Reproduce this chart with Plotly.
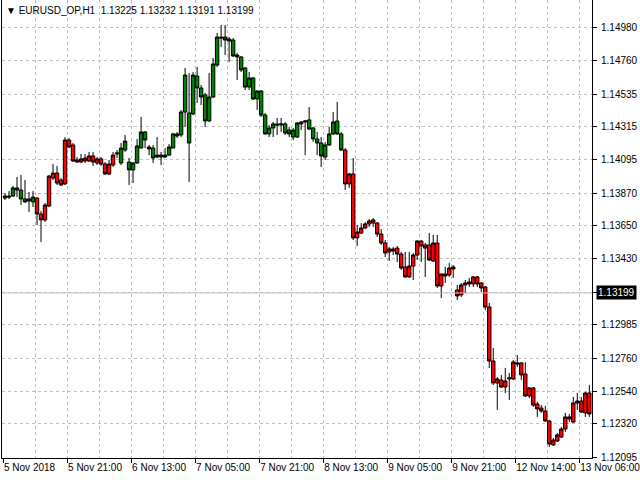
import plotly.graph_objects as go

# EURUSD_OP H1 bars, 5 Nov 2018 -> 13 Nov 2018 (weekend gap removed, one slot per bar)
opens = [
    1.13837, 1.13851, 1.13851, 1.13905, 1.13891, 1.13831, 1.13817, 1.13811,
    1.13837, 1.13730, 1.13690, 1.13784, 1.13972, 1.14005, 1.13958, 1.13932,
    1.14227, 1.14194, 1.14093, 1.14079, 1.14086, 1.14086, 1.14120, 1.14073,
    1.14100, 1.14066, 1.13999, 1.14059, 1.14133, 1.14073, 1.14160, 1.14079,
    1.14026, 1.14073, 1.14173, 1.14281, 1.14180, 1.14173, 1.14113, 1.14126,
    1.14113, 1.14126, 1.14173, 1.14268, 1.14261, 1.14415, 1.14409, 1.14402,
    1.14657, 1.14577, 1.14530, 1.14355, 1.14516, 1.14731, 1.14919, 1.14919,
    1.14906, 1.14899, 1.14785, 1.14785, 1.14711, 1.14583, 1.14644, 1.14503,
    1.14556, 1.14395, 1.14268, 1.14308, 1.14335, 1.14328, 1.14335, 1.14294,
    1.14247, 1.14247, 1.14335, 1.14348, 1.14362, 1.14308, 1.14234, 1.14207,
    1.14113, 1.14194, 1.14268, 1.14355, 1.14268, 1.14160, 1.13932, 1.13999,
    1.13569, 1.13602, 1.13636, 1.13663, 1.13669, 1.13669, 1.13595, 1.13535,
    1.13475, 1.13495, 1.13501, 1.13461, 1.13374, 1.13307, 1.13380, 1.13454,
    1.13548, 1.13522, 1.13522, 1.13414, 1.13535, 1.13246, 1.13327, 1.13320,
    1.13360, 1.13219, 1.13186, 1.13253, 1.13260, 1.13260, 1.13307, 1.13266,
    1.13239, 1.13105, 1.12742, 1.12594, 1.12614, 1.12567, 1.12621, 1.12621,
    1.12729, 1.12729, 1.12655, 1.12507, 1.12561, 1.12453, 1.12426, 1.12406,
    1.12339, 1.12178, 1.12204, 1.12231, 1.12285, 1.12366, 1.12332, 1.12460,
    1.12473, 1.12393, 1.12527,
]
highs = [
    1.13871, 1.13884, 1.13918, 1.13979, 1.13992, 1.13958, 1.13878, 1.13884,
    1.13844, 1.13750, 1.13804, 1.13992, 1.14066, 1.14052, 1.13972, 1.14247,
    1.14241, 1.14207, 1.14113, 1.14133, 1.14133, 1.14147, 1.14147, 1.14113,
    1.14113, 1.14079, 1.14093, 1.14147, 1.14160, 1.14207, 1.14261, 1.14106,
    1.14079, 1.14234, 1.14382, 1.14288, 1.14194, 1.14194, 1.14247, 1.14147,
    1.14173, 1.14200, 1.14274, 1.14281, 1.14429, 1.14711, 1.14677, 1.14684,
    1.14718, 1.14597, 1.14543, 1.14677, 1.14778, 1.14946, 1.15000, 1.15000,
    1.14919, 1.14913, 1.14812, 1.14792, 1.14718, 1.14684, 1.14651, 1.14563,
    1.14563, 1.14409, 1.14328, 1.14348, 1.14375, 1.14375, 1.14348, 1.14315,
    1.14308, 1.14348, 1.14355, 1.14362, 1.14449, 1.14315, 1.14281, 1.14247,
    1.14214, 1.14315, 1.14415, 1.14483, 1.14281, 1.14173, 1.14005, 1.14106,
    1.13656, 1.13669, 1.13676, 1.13696, 1.13703, 1.13676, 1.13629, 1.13555,
    1.13508, 1.13508, 1.13515, 1.13475, 1.13475, 1.13475, 1.13468, 1.13555,
    1.13555, 1.13535, 1.13602, 1.13589, 1.13589, 1.13327, 1.13374, 1.13401,
    1.13387, 1.13253, 1.13266, 1.13286, 1.13300, 1.13313, 1.13313, 1.13273,
    1.13246, 1.13132, 1.12829, 1.12635, 1.12648, 1.12695, 1.12661, 1.12749,
    1.12782, 1.12735, 1.12735, 1.12567, 1.12567, 1.12467, 1.12446, 1.12440,
    1.12346, 1.12225, 1.12258, 1.12299, 1.12393, 1.12386, 1.12500, 1.12527,
    1.12500, 1.12534, 1.12581,
]
lows = [
    1.13824, 1.13831, 1.13844, 1.13844, 1.13790, 1.13804, 1.13743, 1.13777,
    1.13656, 1.13542, 1.13676, 1.13777, 1.13958, 1.13925, 1.13918, 1.13925,
    1.14173, 1.14079, 1.14073, 1.14073, 1.14073, 1.14079, 1.14052, 1.14059,
    1.14052, 1.13992, 1.13992, 1.14046, 1.14106, 1.14059, 1.14147, 1.13925,
    1.13938, 1.14066, 1.14173, 1.14173, 1.14126, 1.14073, 1.14106, 1.14059,
    1.14106, 1.14120, 1.14173, 1.14241, 1.14247, 1.14315, 1.13945, 1.14395,
    1.14476, 1.14462, 1.14315, 1.14348, 1.14509, 1.14718, 1.14852, 1.14798,
    1.14751, 1.14785, 1.14630, 1.14684, 1.14563, 1.14563, 1.14496, 1.14429,
    1.14382, 1.14261, 1.14247, 1.14247, 1.14261, 1.14281, 1.14261, 1.14247,
    1.14227, 1.14241, 1.14294, 1.14126, 1.14294, 1.14214, 1.14126, 1.14046,
    1.14093, 1.14187, 1.14261, 1.14261, 1.14153, 1.13891, 1.13905, 1.13555,
    1.13515, 1.13595, 1.13629, 1.13643, 1.13643, 1.13575, 1.13522, 1.13441,
    1.13414, 1.13454, 1.13407, 1.13354, 1.13300, 1.13300, 1.13286, 1.13421,
    1.13407, 1.13307, 1.13414, 1.13407, 1.13233, 1.13165, 1.13266, 1.13307,
    1.13300, 1.13152, 1.13172, 1.13199, 1.13239, 1.13239, 1.13239, 1.13206,
    1.13085, 1.12695, 1.12581, 1.12413, 1.12561, 1.12527, 1.12480, 1.12614,
    1.12702, 1.12614, 1.12500, 1.12493, 1.12433, 1.12366, 1.12393, 1.12332,
    1.12164, 1.12171, 1.12198, 1.12225, 1.12265, 1.12332, 1.12325, 1.12413,
    1.12393, 1.12366, 1.12366,
]
closes = [
    1.13851, 1.13844, 1.13905, 1.13891, 1.13831, 1.13811, 1.13831, 1.13844,
    1.13730, 1.13690, 1.13790, 1.13985, 1.14005, 1.13938, 1.13925, 1.14227,
    1.14180, 1.14086, 1.14079, 1.14100, 1.14106, 1.14120, 1.14079, 1.14100,
    1.14066, 1.13999, 1.14066, 1.14126, 1.14140, 1.14173, 1.14220, 1.14026,
    1.14073, 1.14187, 1.14281, 1.14227, 1.14167, 1.14106, 1.14126, 1.14113,
    1.14126, 1.14180, 1.14268, 1.14254, 1.14415, 1.14664, 1.14207, 1.14664,
    1.14577, 1.14516, 1.14355, 1.14516, 1.14738, 1.14919, 1.14913, 1.14899,
    1.14892, 1.14792, 1.14798, 1.14698, 1.14583, 1.14644, 1.14503, 1.14556,
    1.14395, 1.14268, 1.14308, 1.14335, 1.14328, 1.14335, 1.14274, 1.14268,
    1.14294, 1.14341, 1.14348, 1.14355, 1.14301, 1.14234, 1.14207, 1.14120,
    1.14194, 1.14268, 1.14348, 1.14268, 1.14160, 1.13932, 1.13999, 1.13569,
    1.13609, 1.13636, 1.13663, 1.13683, 1.13690, 1.13595, 1.13535, 1.13468,
    1.13495, 1.13481, 1.13461, 1.13367, 1.13307, 1.13380, 1.13454, 1.13548,
    1.13515, 1.13501, 1.13421, 1.13535, 1.13246, 1.13327, 1.13313, 1.13367,
    1.13374, 1.13179, 1.13253, 1.13266, 1.13273, 1.13307, 1.13260, 1.13233,
    1.13105, 1.12742, 1.12594, 1.12621, 1.12567, 1.12608, 1.12628, 1.12735,
    1.12722, 1.12648, 1.12507, 1.12561, 1.12446, 1.12420, 1.12406, 1.12339,
    1.12184, 1.12211, 1.12245, 1.12285, 1.12366, 1.12352, 1.12460, 1.12473,
    1.12399, 1.12527, 1.12386,
]

# trend colouring of the bars: first bar index of each run and its colour
trend_starts = [0, 8, 29, 85]
trend_colors = ["#008000", "#ff0000", "#008000", "#ff0000"]

# time axis labels (bar index where each label sits)
time_label_bars = [0, 16, 32, 48, 64, 80, 96, 112, 128, 144]
time_labels = ["5 Nov 2018", "5 Nov 21:00", "6 Nov 13:00", "7 Nov 05:00", "7 Nov 21:00",
               "8 Nov 13:00", "9 Nov 05:00", "9 Nov 21:00", "12 Nov 14:00", "13 Nov 06:00"]

# price scale labels; the one under the bid label is left blank
price_ticks = [1.12095, 1.12320, 1.12540, 1.12760, 1.12985, 1.13205, 1.13430,
               1.13650, 1.13870, 1.14095, 1.14315, 1.14535, 1.14760, 1.14980]
price_labels = ["1.12095", "1.12320", "1.12540", "1.12760", "1.12985", "", "1.13430",
                "1.13650", "1.13870", "1.14095", "1.14315", "1.14535", "1.14760", "1.14980"]

symbol = "EURUSD_OP,H1"
header_ohlc = [1.13225, 1.13232, 1.13191, 1.13199]
bid_price = 1.13199

FONT = "Liberation Sans"
GRID = "#c0c0c0"

fig = go.Figure()

bars = list(range(len(opens)))
bounds = trend_starts + [len(opens)]
for i, color in enumerate(trend_colors):
    a, b = bounds[i], bounds[i + 1]
    style = dict(line=dict(color="black", width=1), fillcolor=color)
    fig.add_trace(go.Candlestick(
        x=bars[a:b], open=opens[a:b], high=highs[a:b], low=lows[a:b], close=closes[a:b],
        increasing=style, decreasing=style, whiskerwidth=0, showlegend=False,
        hoverinfo="skip",
    ))

fig.add_hline(y=bid_price, line=dict(color="#c0c0c0", width=1))

fig.add_annotation(
    x=1, xref="paper", xanchor="left", xshift=4,
    y=bid_price, yref="y", yanchor="middle",
    text="%.5f" % bid_price, showarrow=False,
    bgcolor="black", borderpad=1, font=dict(family=FONT, size=10, color="white"),
)

header = "\u25bc\u00a0" + symbol + "\u00a0\u00a0" + " ".join("%.5f" % v for v in header_ohlc)
fig.add_annotation(
    x=0, xref="paper", xanchor="left", xshift=2,
    y=1, yref="paper", yanchor="top", yshift=-3,
    text=header, showarrow=False, font=dict(family=FONT, size=10, color="black"),
)

fig.update_layout(
    width=640, height=480,
    margin=dict(l=2, r=46, t=0, b=22),
    paper_bgcolor="white", plot_bgcolor="white",
    font=dict(family=FONT, size=10, color="black"),
    boxgap=0.15, boxgroupgap=0,
    xaxis=dict(
        range=[-0.75, 146.67],
        rangeslider=dict(visible=False),
        tickmode="array",
        tickvals=[b - 0.5 for b in time_label_bars],
        ticktext=time_labels,
        tickangle=0,
        ticks="outside", ticklen=4, tickcolor="black",
        ticklabelposition="outside right", ticklabeloverflow="allow",
        showline=True, linecolor="black", linewidth=1,
        showgrid=True, gridcolor=GRID, griddash="3px,3px", gridwidth=1,
        minor=dict(tickmode="linear", tick0=-0.5, dtick=8, ticks="",
                   showgrid=True, gridcolor=GRID, griddash="3px,3px", gridwidth=1),
        zeroline=False, fixedrange=True,
    ),
    yaxis=dict(
        side="right",
        range=[1.12090, 1.15168],
        tickmode="array", tickvals=price_ticks, ticktext=price_labels,
        ticks="outside", ticklen=4, tickcolor="black",
        ticklabelstandoff=2,
        showline=True, mirror=True, linecolor="black", linewidth=1,
        showgrid=True, gridcolor=GRID, griddash="3px,3px", gridwidth=1,
        zeroline=False, fixedrange=True,
    ),
)

# page body margin off so the 640x480 figure sits at the window origin
fig.write_html("out.html", config={"displayModeBar": False},
               post_script="document.body.style.margin='0';")
